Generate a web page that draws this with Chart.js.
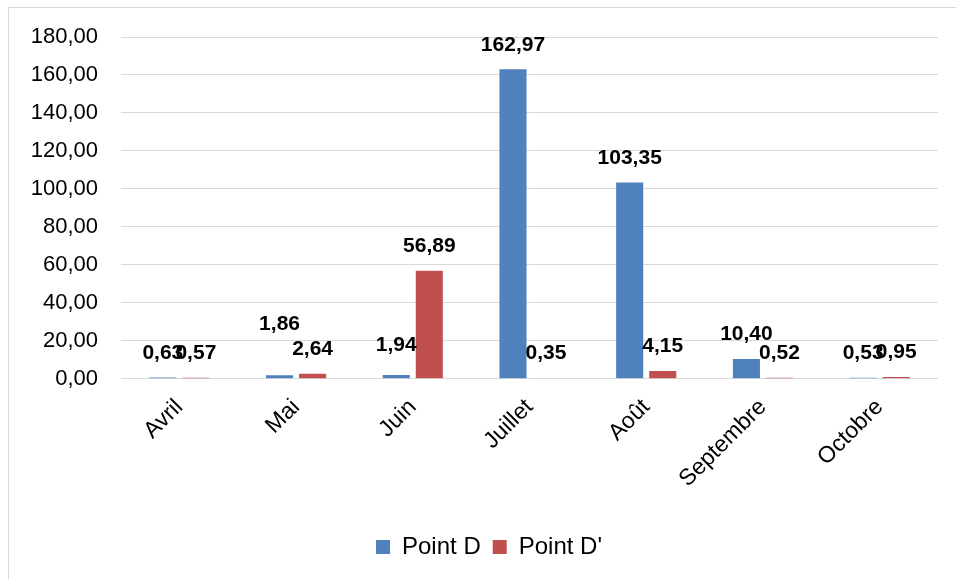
<!DOCTYPE html>
<html>
<head>
<meta charset="utf-8">
<script src="https://cdn.jsdelivr.net/npm/chart.js@4.4.1/dist/chart.umd.min.js"></script>
<style>
  html, body { margin: 0; padding: 0; background: #ffffff; }
  body { width: 956px; height: 579px; position: relative; overflow: hidden; }
  #frame { position: absolute; left: 8px; top: 7px; width: 1000px; height: 1000px; border: 1px solid #d9d9d9; }
  #wrap { position: absolute; left: 0; top: 0; width: 956px; height: 579px; }
</style>
</head>
<body>
<div id="frame"></div>
<div id="wrap"><canvas id="c" width="956" height="579"></canvas></div>
<script>
const categories = ['Avril', 'Mai', 'Juin', 'Juillet', 'Août', 'Septembre', 'Octobre'];
const seriesNames = ['Point D', "Point D'"];
const pointD = [0.63, 1.86, 1.94, 162.97, 103.35, 10.40, 0.53];
const pointDPrime = [0.57, 2.64, 56.89, 0.35, 4.15, 0.52, 0.95];
const yTicks = [0, 20, 40, 60, 80, 100, 120, 140, 160, 180];

const fmt = v => Number(v).toFixed(2).replace('.', ',');
const FONT = "'Liberation Sans', Arial, sans-serif";

const valueLabels = {
  id: 'valueLabels',
  afterDatasetsDraw(chart, args, opts) {
    const ctx = chart.ctx;
    ctx.save();
    ctx.font = 'bold 21px ' + FONT;
    ctx.fillStyle = '#000000';
    ctx.textAlign = 'center';
    ctx.textBaseline = 'middle';
    chart.data.datasets.forEach((ds, di) => {
      const meta = chart.getDatasetMeta(di);
      meta.data.forEach((el, i) => {
        const extra = (opts.nudge && opts.nudge[di + '-' + i]) || 0;
        ctx.fillText(fmt(ds.data[i]), el.x, el.y - opts.offset - extra);
      });
    });
    ctx.restore();
  }
};

const legendShift = {
  id: 'legendShift',
  afterLayout(chart, args, opts) {
    if (chart.legend) {
      chart.legend.left += opts.dx;
      chart.legend.right += opts.dx;
    }
  }
};

new Chart(document.getElementById('c'), {
  type: 'bar',
  data: {
    labels: categories,
    datasets: [
      { label: seriesNames[0], data: pointD, backgroundColor: '#4F81BD', categoryPercentage: 0.566, barPercentage: 0.82 },
      { label: seriesNames[1], data: pointDPrime, backgroundColor: '#C0504D', categoryPercentage: 0.566, barPercentage: 0.82 }
    ]
  },
  plugins: [valueLabels, legendShift],
  options: {
    responsive: false,
    animation: false,
    layout: { padding: { left: 0, right: 18, top: 37, bottom: 10 } },
    scales: {
      y: {
        min: 0, max: 180,
        afterBuildTicks: s => { s.ticks = yTicks.map(v => ({ value: v })); },
        afterFit: s => { s.width = 121; },
        grid: { color: '#d9d9d9', lineWidth: 1, drawTicks: false },
        border: { display: false },
        ticks: { padding: 23, color: '#000000', font: { family: FONT, size: 22 }, callback: v => fmt(v) }
      },
      x: {
        afterFit: s => { s.height = 144.2; },
        grid: { display: false },
        border: { display: false },
        ticks: { minRotation: 45, maxRotation: 45, padding: 7, color: '#000000', font: { family: FONT, size: 23 } }
      }
    },
    plugins: {
      legend: {
        position: 'bottom',
        labels: { boxWidth: 14, boxHeight: 14, padding: 12, color: '#000000', font: { family: FONT, size: 24 } }
      },
      tooltip: { enabled: false },
      valueLabels: { offset: 24.5, nudge: { '0-1': 27, '0-2': 5 } },
      legendShift: { dx: 20 }
    }
  }
});
</script>
</body>
</html>
